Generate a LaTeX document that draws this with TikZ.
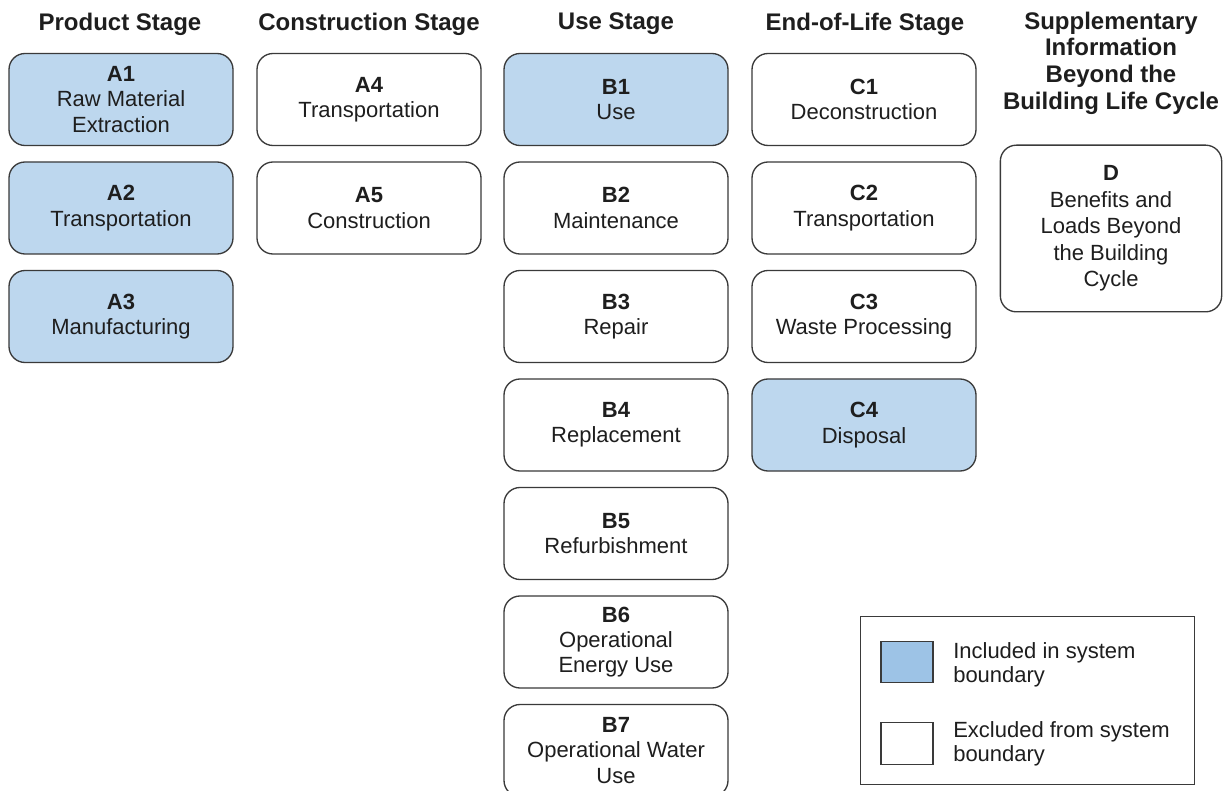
\documentclass[tikz,border=0pt]{standalone}
\usepackage{fontspec}
\setmainfont{Liberation Sans}
\definecolor{inclblue}{HTML}{BDD7EE}
\definecolor{swatchblue}{HTML}{9DC3E6}
\definecolor{edgegray}{HTML}{3A3A3A}
\definecolor{txt}{HTML}{1E1E1E}
\begin{document}
\begin{tikzpicture}[x=0.75pt,y=-0.75pt,
  stagebox/.style={draw=edgegray, line width=1pt, rounded corners=12pt,
    minimum width=168pt, minimum height=69pt, align=center, text=txt,
    font=\fontsize{16.5}{19}\selectfont, inner sep=2pt},
  incl/.style={stagebox, fill=inclblue},
  excl/.style={stagebox, fill=white},
  header/.style={font=\fontsize{18}{20}\selectfont\bfseries, align=center, text=txt},
  legtext/.style={font=\fontsize{16.5}{18}\selectfont, align=left, text=txt, anchor=west, inner sep=0pt},
  swatch/.style={draw=edgegray, line width=0.9pt, minimum width=39pt, minimum height=31pt, inner sep=0pt}
]
\useasboundingbox (0,0) rectangle (1231,791);
\clip (0,0) rectangle (1231,791);
\fill[white] (0,0) rectangle (1231,791);

% headers
\node[header] (hA) at (120,24) {Product Stage};
\node[header] (hAc) at (369,24) {Construction Stage};
\node[header] (hB) at (616,24) {Use Stage};
\node[header] (hC) at (865,24) {End-of-Life Stage};
\node[header] (hD) at (1111,63) {Supplementary\\Information\\Beyond the\\Building Life Cycle};

% product stage
\node[incl] (A1) at (121,99.5) {\textbf{A1}\\Raw Material\\Extraction};
\node[incl] (A2) at (121,208) {\textbf{A2}\\Transportation};
\node[incl] (A3) at (121,316.5) {\textbf{A3}\\Manufacturing};

% construction stage
\node[excl] (A4) at (369,99.5) {\textbf{A4}\\Transportation};
\node[excl] (A5) at (369,208) {\textbf{A5}\\Construction};

% use stage
\node[incl] (B1) at (616,99.5) {\textbf{B1}\\Use};
\node[excl] (B2) at (616,208) {\textbf{B2}\\Maintenance};
\node[excl] (B3) at (616,316.5) {\textbf{B3}\\Repair};
\node[excl] (B4) at (616,425) {\textbf{B4}\\Replacement};
\node[excl] (B5) at (616,533.5) {\textbf{B5}\\Refurbishment};
\node[excl] (B6) at (616,642) {\textbf{B6}\\Operational\\Energy Use};
\node[excl] (B7) at (616,750.5) {\textbf{B7}\\Operational Water\\Use};

% end of life
\node[excl] (C1) at (864,99.5) {\textbf{C1}\\Deconstruction};
\node[excl] (C2) at (864,208) {\textbf{C2}\\Transportation};
\node[excl] (C3) at (864,316.5) {\textbf{C3}\\Waste Processing};
\node[incl] (C4) at (864,425) {\textbf{C4}\\Disposal};

% supplementary
\node[excl, minimum height=125pt, minimum width=166pt, font=\fontsize{16.5}{19.8}\selectfont] (D) at (1111,228.5) {\textbf{D}\\Benefits and\\Loads Beyond\\the Building\\Cycle};

% legend
\node[draw=edgegray, line width=0.7pt, minimum width=251pt, minimum height=126pt, inner sep=0pt] (leg) at (1027.5,700) {};
\node[swatch, fill=swatchblue] (sw1) at (907,662) {};
\node[swatch, fill=white] (sw2) at (907,743.5) {};
\node[legtext] (l1) at (953,665) {Included in system\\boundary};
\node[legtext] (l2) at (953,744) {Excluded from system\\boundary};
\end{tikzpicture}
\end{document}
